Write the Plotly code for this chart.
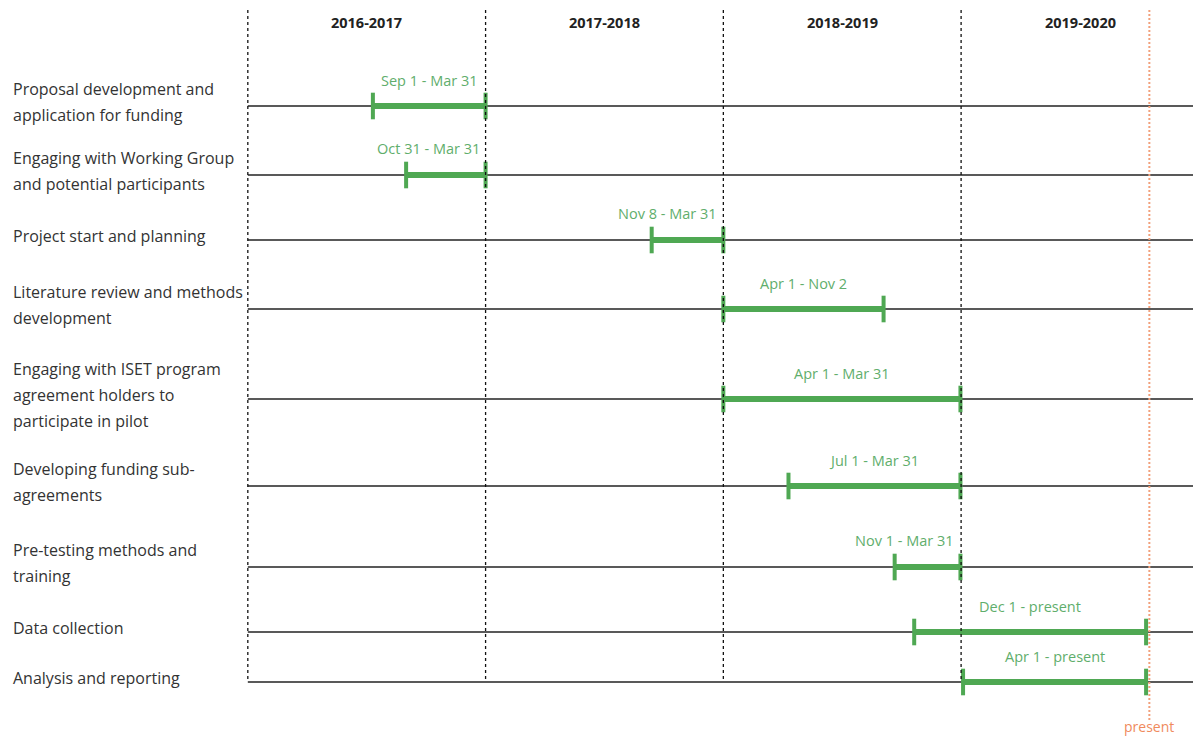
import plotly.graph_objects as go
import pandas as pd

# ---- data ----
tasks = [
    "Proposal development and<br>application for funding",
    "Engaging with Working Group<br>and potential participants",
    "Project start and planning",
    "Literature review and methods<br>development",
    "Engaging with ISET program<br>agreement holders to<br>participate in pilot",
    "Developing funding sub-<br>agreements",
    "Pre-testing methods and<br>training",
    "Data collection",
    "Analysis and reporting",
]
bar_labels = [
    "Sep 1 - Mar 31", "Oct 31 - Mar 31", "Nov 8 - Mar 31", "Apr 1 - Nov 2",
    "Apr 1 - Mar 31", "Jul 1 - Mar 31", "Nov 1 - Mar 31", "Dec 1 - present",
    "Apr 1 - present",
]
# bar extents as drawn in the picture
starts = ["2016-10-10", "2016-11-30", "2017-12-12", "2018-04-01", "2018-04-01",
          "2018-07-10", "2018-12-20", "2019-01-19", "2019-04-04"]
ends = ["2017-04-01", "2017-04-01", "2018-04-01", "2018-12-03", "2019-03-31",
        "2019-03-31", "2019-03-31", "2020-01-10", "2020-01-10"]
fiscal_years = ["2016-2017", "2017-2018", "2018-2019", "2019-2020"]
fy_starts = ["2016-04-01", "2017-04-01", "2018-04-01", "2019-04-01"]
present_date = "2020-01-15"

# ---- layout helpers (row positions in pixel-like units, top = 0) ----
row_y = [106, 175, 240, 309, 399, 486, 567, 632, 682]

FONT = "Open Sans"
GREEN = "#4fa853"
LABEL_GREEN = "#5fae6c"
ORANGE = "#f2a07c"

fig = go.Figure()

for i in range(len(tasks)):
    y = row_y[i]
    fig.add_trace(go.Scatter(
        x=[starts[i], ends[i]], y=[y, y], mode="lines+markers",
        line=dict(color=GREEN, width=6),
        marker=dict(symbol="line-ns", size=19, line=dict(color=GREEN, width=4)),
        hoverinfo="skip", showlegend=False, cliponaxis=False))
    s = pd.Timestamp(starts[i]); e = pd.Timestamp(ends[i])
    dur = (e - s).days
    if dur < 160:
        fig.add_annotation(x=ends[i], y=y - 27, text=bar_labels[i], showarrow=False,
                           xanchor="right", xshift=-4, yanchor="middle",
                           font=dict(family=FONT, size=14.5, color=LABEL_GREEN))
    else:
        mid = s + (e - s) / 2
        fig.add_annotation(x=mid, y=y - 26, text=bar_labels[i], showarrow=False,
                           xanchor="center", yanchor="middle",
                           font=dict(family=FONT, size=14.5, color=LABEL_GREEN))
    # row line
    fig.add_shape(type="line", xref="x", yref="y", x0=fy_starts[0], x1="2020-04-30",
                  y0=y, y1=y, line=dict(color="#222222", width=1.5), layer="below")
    # left task label, one annotation per line
    lines = tasks[i].split("<br>")
    n = len(lines)
    for k, ln in enumerate(lines):
        fig.add_annotation(xref="paper", x=0, xshift=-229, y=y - 4 + (k - (n - 1) / 2) * 26,
                           text=ln, showarrow=False, xanchor="left", yanchor="middle",
                           font=dict(family=FONT, size=16, color="#333333"))

# fiscal-year dividers and headers
for j, fy in enumerate(fiscal_years):
    fig.add_shape(type="line", xref="x", yref="y", x0=fy_starts[j], x1=fy_starts[j],
                  y0=10, y1=row_y[-1], line=dict(color="#111111", width=1.3, dash="3px,3px"))
    a = pd.Timestamp(fy_starts[j])
    mid = a + (a + pd.DateOffset(years=1) - a) / 2
    fig.add_annotation(x=mid, y=22, text="<b>" + fy + "</b>", showarrow=False,
                       xanchor="center", yanchor="middle",
                       font=dict(family=FONT, size=14.5, color="#222222"))

# present line
fig.add_shape(type="line", xref="x", yref="y", x0=present_date, x1=present_date,
              y0=10, y1=720, line=dict(color=ORANGE, width=2, dash="2px,2px"))
fig.add_annotation(x=present_date, y=726, text="present", showarrow=False,
                   xanchor="center", yanchor="middle",
                   font=dict(family=FONT, size=14, color="#f08a5d"))

fig.update_layout(
    width=1193, height=736,
    margin=dict(l=240, r=0, t=0, b=0),
    plot_bgcolor="white", paper_bgcolor="white",
    xaxis=dict(type="date", range=["2016-03-20", "2020-03-22"], visible=False,
               showgrid=False, zeroline=False),
    yaxis=dict(range=[736, 0], visible=False, showgrid=False, zeroline=False),
    showlegend=False,
)

fig.write_html("out.html")
